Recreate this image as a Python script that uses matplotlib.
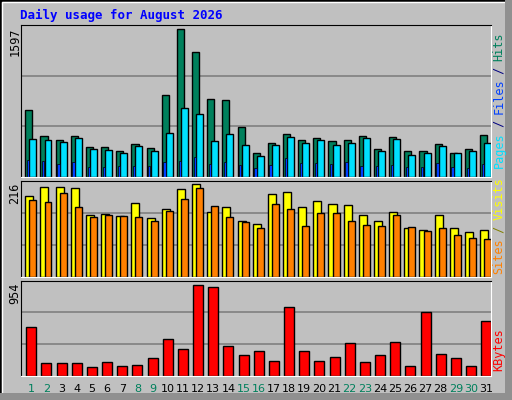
import matplotlib
matplotlib.use("Agg")
import matplotlib.pyplot as plt
from matplotlib.patches import Rectangle

days = list(range(1, 32))
weekend = [1, 2, 8, 9, 15, 16, 22, 23, 29, 30]
hits = [730, 448, 405, 448, 329, 329, 285, 361, 318, 892, 1597, 1348, 849, 838, 546, 264,
        372, 470, 405, 426, 394, 405, 448, 307, 437, 285, 285, 361, 264, 307, 459]
files = [415, 405, 383, 426, 307, 296, 264, 340, 285, 481, 741, 676, 394, 470, 350, 231,
         350, 437, 372, 405, 350, 372, 426, 285, 415, 242, 264, 340, 264, 285, 372]
pages = [188, 177, 145, 166, 112, 112, 123, 123, 123, 166, 177, 220, 145, 166, 134, 101,
         134, 210, 155, 155, 145, 166, 123, 123, 134, 112, 112, 155, 112, 101, 145]
visits = [188, 209, 209, 207, 143, 146, 141, 171, 136, 157, 204, 216, 150, 162, 131, 122,
          193, 197, 162, 176, 169, 167, 143, 129, 150, 113, 108, 143, 113, 103, 108]
sites = [178, 174, 195, 162, 139, 143, 141, 139, 129, 153, 181, 207, 164, 139, 127, 113,
         169, 157, 117, 148, 148, 131, 120, 117, 143, 115, 106, 113, 96, 89, 87]
kbytes = [515, 139, 139, 139, 97, 150, 108, 118, 192, 390, 286, 954, 923, 317, 223, 265,
          160, 724, 265, 160, 202, 348, 150, 223, 359, 108, 672, 233, 192, 108, 578]

W, H = 512, 400
BG = "#C0C0C0"
fig = plt.figure(figsize=(W/100, H/100), dpi=100, facecolor=BG)

# bevel border
fig.add_artist(Rectangle((0, 0), 1, 1, transform=fig.transFigure, fill=False, ec="black", lw=2))
fig.add_artist(Rectangle((2/W, 2/H), 1-4/W, 1-4/H, transform=fig.transFigure, fill=False, ec="white", lw=1))
fig.add_artist(Rectangle((0, 0), 1, 7/H, transform=fig.transFigure, fc="#909090", ec="none"))
fig.add_artist(Rectangle((1-7/W, 0), 7/W, 1, transform=fig.transFigure, fc="#909090", ec="none"))

def ax_px(x0, y0, x1, y1):
    return fig.add_axes([x0/W, 1-y1/H, (x1-x0)/W, (y1-y0)/H])

def style(ax, top):
    ax.set_facecolor(BG)
    ax.set_xlim(0, 31)
    ax.set_ylim(0, top)
    ax.set_xticks([]); ax.set_yticks([])
    for s in ["left", "top"]:
        ax.spines[s].set_color("black")
    for s in ["right", "bottom"]:
        ax.spines[s].set_color("white")
    for f in (1/3, 2/3):
        ax.axhline(top*f, color="#808080", lw=1.2, zorder=0)

x = [d-1 for d in days]
kw = dict(edgecolor="black", linewidth=1, align="edge")
mono = "DejaVu Sans Mono"

a1 = ax_px(20.7, 25, 490.7, 177)
style(a1, 1644)
a1.bar([i+0.30 for i in x], hits, width=0.47, color="#00805C", **kw)
a1.bar([i+0.57 for i in x], files, width=0.46, color="#00E0FF", **kw)
a1.bar([i+0.41 for i in x], pages, width=0.15, color="#0040FF", edgecolor="black", linewidth=0.5, align="edge")

a2 = ax_px(20.7, 180.5, 490.7, 276.5)
style(a2, 224.6)
a2.bar([i+0.30 for i in x], visits, width=0.53, color="#FFFF00", **kw)
a2.bar([i+0.57 for i in x], sites, width=0.46, color="#FF8000", **kw)

a3 = ax_px(20.7, 280.5, 490.7, 376)
style(a3, 996)
a3.bar([i+0.37 for i in x], kbytes, width=0.66, color="#FF0000", **kw)

fig.text(20/W, 1-15/H, "Daily usage for August 2026", color="#0000FF", family=mono,
         weight="bold", fontsize=9, va="center", ha="left")

for ytop, lab in [(25, "1597"), (180.5, "216"), (280.5, "954")]:
    fig.text(15/W, 1-(ytop+2)/H, lab, rotation=90, family=mono, fontsize=8.5,
             va="top", ha="center", color="black")

def right_label(ycenter, parts):
    # parts: list of (text, color) from bottom to top
    total = sum(len(t) for t, _ in parts)
    ch = 6.7
    y = ycenter + total*ch/2
    for t, c in parts:
        fig.text(499/W, 1-y/H, t, rotation=90, family=mono, fontsize=8.5, color=c,
                 ha="center", va="bottom")
        y -= len(t)*ch

right_label(101, [("Pages", "#00E0FF"), (" / ", "#000080"), ("Files", "#0040FF"),
                  (" / ", "#000080"), ("Hits", "#00805C")])
right_label(227, [("Sites", "#FF8000"), (" / ", "#808000"), ("Visits", "#FFFF00")])
right_label(351, [("KBytes", "#FF0000")])

for d in days:
    xc = 20.7 + (d-1+0.7)*470/31
    fig.text(xc/W, 1-389/H, str(d), ha="center", va="center", fontsize=8,
             family="DejaVu Sans", color="#00805C" if d in weekend else "black")

fig.savefig("out.png", dpi=100, facecolor=BG)
